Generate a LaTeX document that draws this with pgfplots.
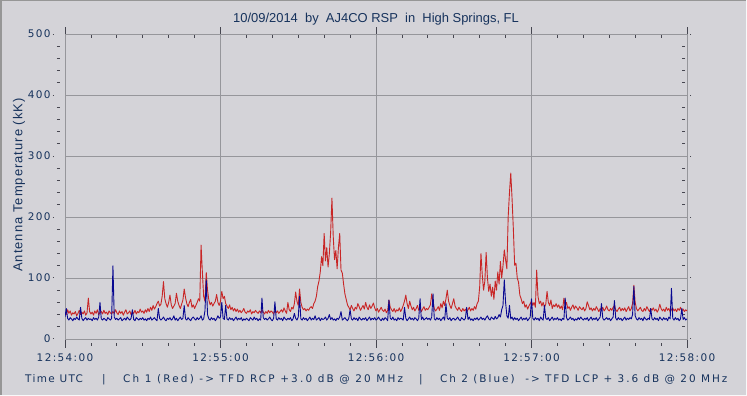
\documentclass[border=0pt]{standalone}
\usepackage{pgfplots}
\pgfplotsset{compat=1.18}
\usepackage{pgfplotstable}
\usepackage{fontspec}
\setmainfont{Liberation Sans}
\newfontfamily\ylabfont[LetterSpace=8]{Liberation Sans}
\newfontfamily\tickfont[LetterSpace=13]{DejaVu Sans}
\newfontfamily\chonefont[LetterSpace=21]{DejaVu Sans}
\newfontfamily\chtwofont[LetterSpace=19]{DejaVu Sans}
\definecolor{bg}{RGB}{212,211,216}
\definecolor{gridc}{RGB}{150,150,155}
\definecolor{txt}{RGB}{22,50,92}
\definecolor{chred}{RGB}{200,38,38}
\definecolor{chblue}{RGB}{8,8,145}
\definecolor{tickc}{RGB}{70,70,80}

% Ch 1 (red), one value every 0.5 s from 12:54:00
\pgfplotstableread[row sep=\\]{v\\
44\\40\\48\\42\\46\\39\\43\\41\\45\\38\\42\\47\\40\\44\\41\\46\\39\\43\\67\\45\\
41\\44\\39\\46\\42\\48\\40\\43\\45\\41\\47\\42\\44\\40\\46\\43\\41\\45\\42\\48\\
43\\40\\46\\42\\45\\39\\44\\48\\41\\43\\46\\40\\44\\42\\47\\41\\45\\43\\49\\44\\
46\\42\\48\\44\\50\\45\\52\\47\\55\\49\\53\\58\\62\\54\\57\\70\\94\\66\\58\\52\\
60\\72\\56\\50\\54\\58\\75\\62\\55\\50\\57\\64\\82\\68\\58\\53\\60\\65\\52\\56\\
50\\55\\60\\66\\62\\154\\110\\70\\62\\109\\80\\64\\56\\60\\54\\58\\62\\73\\60\\55\\
62\\78\\66\\70\\58\\54\\50\\56\\48\\52\\46\\50\\45\\49\\44\\47\\43\\46\\50\\44\\
42\\46\\44\\48\\41\\45\\43\\47\\44\\42\\46\\43\\48\\44\\41\\45\\42\\47\\43\\46\\
44\\41\\47\\43\\46\\42\\45\\48\\44\\51\\46\\42\\60\\48\\45\\52\\49\\58\\77\\62\\
55\\82\\60\\52\\48\\50\\46\\49\\47\\51\\53\\50\\58\\62\\70\\86\\95\\110\\135\\120\\
173\\128\\150\\118\\140\\175\\231\\168\\130\\145\\115\\150\\173\\113\\108\\90\\74\\65\\56\\52\\
48\\55\\50\\46\\52\\49\\58\\53\\47\\51\\55\\49\\60\\52\\48\\56\\50\\54\\59\\51\\
46\\50\\44\\48\\52\\47\\45\\49\\43\\47\\64\\52\\48\\45\\50\\44\\48\\46\\51\\45\\
49\\55\\62\\72\\58\\50\\62\\54\\48\\52\\46\\50\\55\\47\\51\\45\\49\\53\\47\\50\\
48\\52\\56\\74\\60\\50\\46\\49\\53\\47\\58\\51\\62\\55\\66\\80\\62\\55\\50\\58\\
66\\54\\50\\47\\52\\48\\45\\50\\46\\49\\44\\48\\52\\46\\50\\47\\53\\49\\58\\62\\
85\\140\\105\\80\\95\\142\\100\\78\\90\\70\\85\\65\\95\\80\\110\\90\\127\\100\\120\\146\\
130\\115\\200\\240\\272\\230\\180\\121\\124\\100\\93\\72\\66\\58\\62\\52\\56\\49\\54\\58\\
62\\55\\60\\52\\113\\70\\58\\62\\54\\60\\52\\57\\78\\60\\55\\64\\50\\56\\53\\58\\
52\\56\\50\\54\\48\\67\\55\\60\\50\\53\\47\\52\\56\\49\\54\\51\\47\\53\\50\\48\\
52\\46\\50\\61\\55\\48\\51\\46\\50\\47\\53\\49\\45\\50\\47\\52\\46\\49\\54\\48\\
46\\50\\47\\52\\55\\48\\45\\49\\52\\46\\50\\47\\51\\45\\49\\53\\46\\50\\58\\88\\
60\\50\\46\\49\\52\\47\\45\\50\\46\\53\\49\\45\\50\\47\\51\\46\\49\\44\\48\\57\\
50\\46\\49\\45\\52\\47\\50\\44\\48\\51\\46\\49\\45\\50\\47\\52\\46\\49\\45\\48\\
46\\
}\redtab

% Ch 2 (blue), one value every 0.5 s from 12:54:00
\pgfplotstableread[row sep=\\]{v\\
36\\50\\34\\31\\35\\33\\30\\34\\32\\36\\33\\31\\52\\34\\30\\33\\35\\31\\34\\32\\
33\\30\\35\\32\\34\\31\\36\\60\\33\\31\\34\\32\\30\\35\\33\\31\\34\\120\\36\\32\\
34\\31\\33\\35\\30\\32\\34\\31\\36\\33\\31\\34\\48\\32\\30\\35\\33\\31\\34\\32\\
35\\31\\33\\30\\34\\32\\36\\31\\33\\35\\32\\30\\50\\34\\31\\33\\36\\32\\30\\34\\
32\\35\\31\\33\\38\\31\\34\\30\\33\\36\\32\\34\\55\\33\\31\\35\\32\\30\\34\\36\\
33\\31\\35\\32\\34\\38\\31\\33\\46\\97\\40\\33\\31\\35\\32\\34\\30\\33\\38\\34\\
36\\60\\34\\32\\55\\33\\31\\35\\32\\34\\30\\33\\36\\31\\34\\32\\35\\30\\33\\31\\
34\\32\\30\\35\\33\\31\\36\\32\\34\\30\\33\\31\\67\\35\\32\\34\\31\\33\\36\\32\\
30\\34\\61\\33\\31\\35\\32\\34\\30\\36\\33\\31\\34\\32\\35\\30\\33\\42\\34\\31\\
36\\70\\33\\31\\35\\32\\34\\30\\33\\36\\31\\34\\32\\38\\31\\33\\35\\30\\34\\32\\
33\\36\\31\\34\\40\\32\\35\\31\\33\\30\\34\\32\\36\\45\\31\\33\\35\\32\\30\\34\\
48\\33\\31\\35\\32\\34\\30\\36\\33\\31\\34\\32\\35\\30\\33\\36\\31\\34\\32\\35\\
31\\33\\36\\32\\30\\34\\31\\35\\33\\30\\64\\34\\32\\36\\31\\33\\30\\35\\32\\34\\
33\\31\\52\\34\\30\\33\\36\\32\\34\\31\\35\\33\\30\\34\\66\\32\\36\\31\\33\\35\\
32\\34\\31\\36\\74\\33\\31\\35\\32\\34\\30\\33\\36\\31\\58\\34\\32\\35\\30\\33\\
34\\31\\33\\36\\32\\30\\35\\33\\31\\34\\52\\32\\36\\31\\33\\30\\34\\32\\35\\31\\
33\\36\\32\\34\\31\\35\\38\\33\\31\\36\\34\\32\\37\\33\\35\\40\\36\\48\\55\\97\\
60\\38\\34\\55\\33\\36\\31\\35\\32\\34\\30\\33\\36\\31\\34\\32\\35\\30\\33\\36\\
66\\34\\31\\35\\32\\34\\30\\36\\33\\31\\55\\34\\32\\35\\30\\33\\36\\31\\34\\32\\
35\\31\\33\\30\\34\\32\\67\\35\\31\\33\\36\\32\\34\\30\\33\\31\\35\\32\\36\\33\\
31\\34\\32\\35\\30\\33\\36\\31\\34\\32\\35\\30\\33\\36\\58\\34\\31\\33\\35\\32\\
34\\30\\33\\36\\63\\34\\31\\35\\32\\34\\30\\33\\36\\31\\34\\32\\35\\33\\40\\86\\
38\\33\\31\\35\\32\\34\\30\\36\\33\\31\\34\\32\\50\\33\\31\\35\\32\\34\\30\\36\\
33\\31\\35\\32\\34\\30\\36\\33\\83\\34\\31\\35\\32\\34\\30\\33\\50\\32\\35\\31\\
33\\
}\bluetab

\begin{document}
\begin{tikzpicture}
\path[use as bounding box] (0,0) rectangle (747bp,396bp);
\fill[bg] (0,0) rectangle (747bp,396bp);
\draw[line width=1.5bp, draw={rgb,255:red,150;green,150;blue,150}] (0,395.25bp) -- (747bp,395.25bp);
\draw[line width=1.5bp, draw={rgb,255:red,150;green,150;blue,150}] (0.75bp,0) -- (0.75bp,396bp);
\draw[line width=1.5bp, draw=white!85!bg] (0,0.75bp) -- (747bp,0.75bp);
\draw[line width=1.5bp, draw=white!85!bg] (746.25bp,0) -- (746.25bp,396bp);

\begin{axis}[
  at={(65bp,57bp)}, anchor=south west,
  scale only axis, width=622bp, height=305bp,
  xmin=0, xmax=240, ymin=0, ymax=500,
  xtick={0,60,120,180,240},
  xticklabels={12:54:00,12:55:00,12:56:00,12:57:00,12:58:00},
  minor x tick num=5,
  ytick={0,100,200,300,400,500},
  minor y tick num=4,
  tick align=outside,
  major tick length=8bp, minor tick length=3bp,
  major x tick style={draw=tickc, line width=0.8bp, yshift=-1bp},
  minor x tick style={draw=tickc, line width=0.8bp, yshift=-4bp},
  major y tick style={draw=tickc, line width=1bp, xshift=-4bp, dash pattern=on 1.5bp off 10bp},
  minor y tick style={draw=tickc, line width=0.8bp, xshift=-5bp},
  grid=major,
  major grid style={draw=gridc, line width=0.8bp, xshift=0bp, yshift=0bp, dash pattern=},
  axis line style={draw=gridc, line width=0.8bp},
  axis background/.style={fill=bg},
  /pgf/number format/assume math mode=true,
  xticklabel style={font=\tickfont\fontsize{10.5}{12}\selectfont, text=txt, yshift=-3bp},
  yticklabel style={font=\tickfont\fontsize{10.5}{12}\selectfont, text=txt, xshift=-3bp},
  clip=true,
]
\addplot[chred, line width=0.9bp, line join=round] table[x expr=\coordindex/2, y=v] {\redtab};
\addplot[chblue, line width=0.9bp, line join=round] table[x expr=\coordindex/2, y=v] {\bluetab};
\end{axis}

\node[anchor=base, inner sep=0, text=txt, font=\fontsize{13}{15}\selectfont] at (376bp,373bp)
  {10/09/2014~~by~~AJ4CO RSP~~in~~High Springs, FL};
\node[rotate=90, inner sep=0, text=txt, font=\ylabfont\fontsize{13}{15}\selectfont] at (19bp,211bp)
  {Antenna Temperature (kK)};

\begin{scope}[every node/.style={anchor=base west, inner sep=0, text=txt}]
\node[font=\tickfont\fontsize{10.5}{12}\selectfont] at (25bp,14bp) {Time UTC};
\node[font=\tickfont\fontsize{10.5}{12}\selectfont] at (102bp,14bp) {|};
\node[font=\chonefont\fontsize{10.5}{12}\selectfont] at (123bp,14bp) {Ch 1 (Red) -> TFD RCP +3.0 dB @ 20 MHz};
\node[font=\tickfont\fontsize{10.5}{12}\selectfont] at (419bp,14bp) {|};
\node[font=\chtwofont\fontsize{10.5}{12}\selectfont] at (440bp,14bp) {Ch 2 (Blue)~ -> TFD LCP + 3.6 dB @ 20 MHz};
\end{scope}
\end{tikzpicture}
\end{document}
